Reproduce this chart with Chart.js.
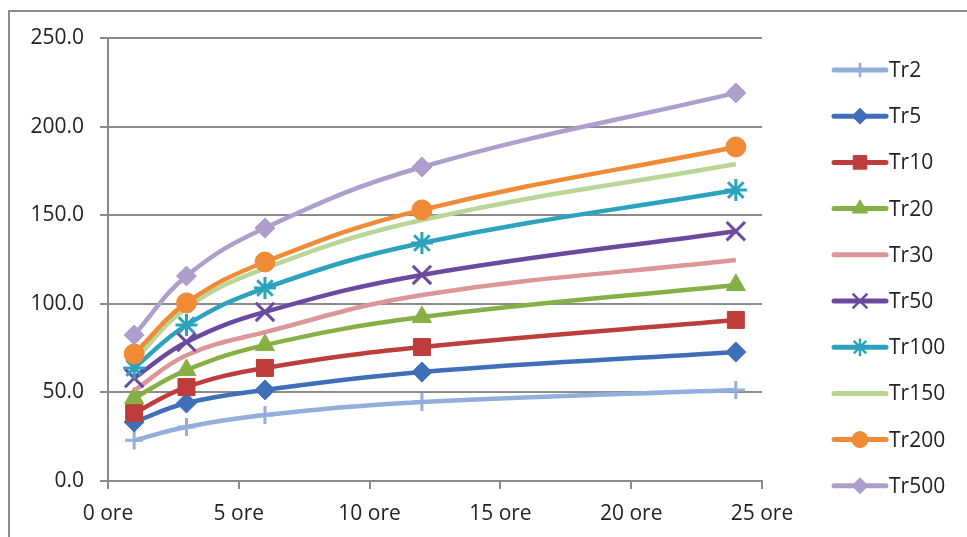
<!DOCTYPE html>
<html>
<head>
<meta charset="utf-8">
<script src="https://cdn.jsdelivr.net/npm/chart.js@4.4.1/dist/chart.umd.min.js"></script>
<style>
  html, body { margin: 0; padding: 0; background: #fff; }
  #wrap { width: 967px; height: 537px; position: relative; }
</style>
</head>
<body>
<div id="wrap"><canvas id="c" width="967" height="537"></canvas></div>
<script>
// ---- data ----
const hours = [1, 3, 6, 12, 24];
const xTicks = [0, 5, 10, 15, 20, 25];
const yTicks = [0, 50, 100, 150, 200, 250];
const seriesNames = ['Tr2', 'Tr5', 'Tr10', 'Tr20', 'Tr30', 'Tr50', 'Tr100', 'Tr150', 'Tr200', 'Tr500'];
const tr2   = [23.0, 30.5, 37.2, 44.6, 51.4];
const tr5   = [33.3, 44.0, 51.4, 61.5, 72.8];
const tr10  = [38.4, 53.0, 63.8, 75.6, 90.9];
const tr20  = [46.8, 62.6, 76.7, 92.5, 110.6];
const tr30  = [51.0, 71.0, 84.0, 105.0, 124.7];
const tr50  = [58.1, 78.4, 95.4, 116.3, 141.0];
const tr100 = [63.8, 88.0, 108.9, 134.3, 164.2];
const tr150 = [68.0, 97.6, 120.0, 147.3, 178.9];
const tr200 = [71.7, 100.5, 123.6, 153.0, 188.5];
const tr500 = [82.4, 115.7, 142.8, 177.2, 219.0];
const seriesValues = [tr2, tr5, tr10, tr20, tr30, tr50, tr100, tr150, tr200, tr500];

// ---- styles ----
const colors = ['#93AEDB', '#3F6FB8', '#BC3D3B', '#86B043', '#DC9598', '#6A4A9E', '#2CA2BC', '#B9D697', '#F08A35', '#AE9ECB'];
const markers = ['cross', 'rectRot', 'rect', 'triangle', false, 'crossRot', 'star', false, 'circle', 'rectRot'];
const markerRadius = [9, 10, 12, 11, 0, 13, 11, 0, 10, 10];
const strokeMarkers = ['cross', 'crossRot', 'star'];

const datasets = seriesNames.map((name, i) => ({
  label: name,
  data: hours.map((h, j) => ({ x: h, y: seriesValues[i][j] })),
  borderColor: colors[i],
  backgroundColor: colors[i],
  borderWidth: 4.5,
  tension: 0.4,
  pointStyle: markers[i],
  pointRadius: markerRadius[i],
  pointHoverRadius: markerRadius[i],
  pointBorderWidth: strokeMarkers.includes(markers[i]) ? 3 : 1,
  pointBorderColor: colors[i],
  pointBackgroundColor: colors[i],
  order: seriesNames.length - i,
  fill: false
}));

const FONT = "'Open Sans', 'DejaVu Sans', sans-serif";
const GRID = '#8a8a8a';

const framePlugin = {
  id: 'frame',
  beforeDraw(chart) {
    const ctx = chart.ctx;
    ctx.save();
    ctx.fillStyle = '#fff';
    ctx.fillRect(0, 0, chart.width, chart.height);
    ctx.strokeStyle = '#8c8c8c';
    ctx.lineWidth = 2;
    ctx.beginPath();
    ctx.moveTo(9, chart.height);
    ctx.lineTo(9, 11);
    ctx.lineTo(chart.width, 11);
    ctx.stroke();
    ctx.restore();
  }
};

const legendPlugin = {
  id: 'customLegend',
  afterDraw(chart) {
    const ctx = chart.ctx;
    ctx.save();
    const x0 = 834, x1 = 886, y0 = 70, step = 46.2;
    seriesNames.forEach((name, i) => {
      const y = y0 + i * step;
      ctx.strokeStyle = colors[i];
      ctx.lineWidth = 5;
      ctx.lineCap = 'round';
      ctx.beginPath();
      ctx.moveTo(x0, y);
      ctx.lineTo(x1, y);
      ctx.stroke();
      ctx.lineCap = 'butt';
      if (markers[i]) {
        ctx.fillStyle = colors[i];
        ctx.strokeStyle = colors[i];
        const bw = strokeMarkers.includes(markers[i]) ? 2.5 : 1;
        ctx.lineWidth = bw;
        Chart.helpers.drawPoint(ctx, { pointStyle: markers[i], radius: markerRadius[i] * 0.8, borderWidth: bw, rotation: 0 }, (x0 + x1) / 2, y);
      }
      ctx.fillStyle = '#222';
      ctx.font = '21px ' + FONT;
      ctx.textAlign = 'left';
      ctx.textBaseline = 'middle';
      ctx.fillText(name, 889, y + 1);
    });
    ctx.restore();
  }
};

new Chart(document.getElementById('c'), {
  type: 'line',
  data: { datasets },
  plugins: [framePlugin, legendPlugin],
  options: {
    responsive: false,
    animation: false,
    devicePixelRatio: 1,
    layout: { padding: { top: 38, right: 205, bottom: 0, left: 0 } },
    plugins: { legend: { display: false }, tooltip: { enabled: false } },
    scales: {
      x: {
        type: 'linear',
        min: 0, max: 25,
        afterBuildTicks(scale) { scale.ticks = xTicks.map(v => ({ value: v })); },
        afterFit(scale) { scale.height = 56; },
        ticks: {
          callback: v => v + ' ore',
          color: '#222',
          font: { family: FONT, size: 21 },
          padding: 12,
          maxRotation: 0,
          autoSkip: false
        },
        grid: { drawOnChartArea: false, drawTicks: true, tickLength: 8, color: GRID, lineWidth: 2 },
        border: { display: true, color: GRID, width: 2 }
      },
      y: {
        min: 0, max: 250,
        afterBuildTicks(scale) { scale.ticks = yTicks.map(v => ({ value: v })); },
        afterFit(scale) { scale.width = 108; },
        ticks: {
          callback: v => Number(v).toFixed(1),
          color: '#222',
          font: { family: FONT, size: 21 },
          padding: 16
        },
        grid: { drawOnChartArea: true, drawTicks: true, tickLength: 8, color: GRID, lineWidth: 2 },
        border: { display: true, color: GRID, width: 2 }
      }
    }
  }
});
</script>
</body>
</html>
